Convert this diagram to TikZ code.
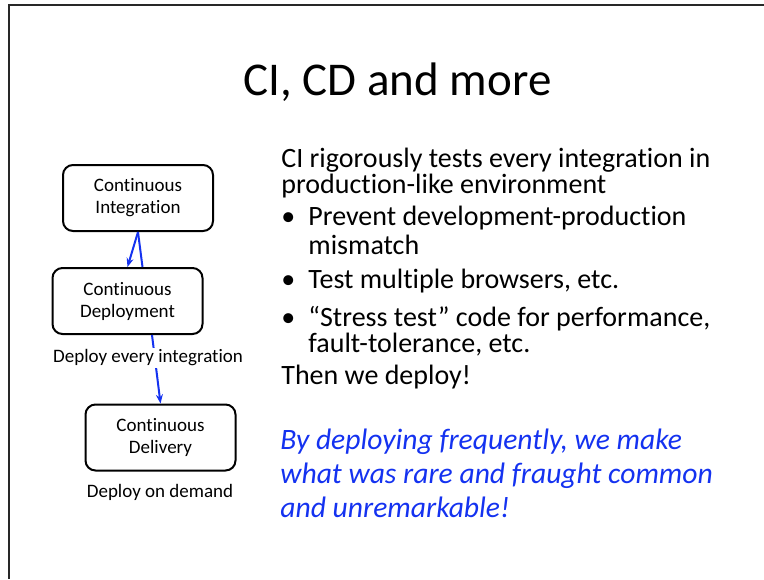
\documentclass[tikz,border=0pt]{standalone}
\usepackage{fontspec}
\setmainfont{Carlito}[Ligatures=NoCommon]
\usetikzlibrary{arrows.meta}
\definecolor{slideblue}{RGB}{20,50,240}
\definecolor{framegray}{RGB}{40,40,40}
\tikzset{
  stage/.style={draw,rounded corners=5pt,line width=1pt,minimum width=75pt,
    minimum height=33pt,align=center,inner sep=0pt,
    font=\fontsize{9.5}{11}\selectfont},
  flow/.style={slideblue,line width=1pt,-{Stealth[length=4.5pt,width=3.5pt]}},
  note/.style={fill=white,inner sep=1pt,font=\fontsize{9.5}{11}\selectfont},
  body/.style={anchor=base west,inner sep=0pt,font=\fontsize{14}{16}\selectfont},
  punch/.style={body,slideblue,font=\fontsize{14.8}{16}\selectfont\itshape},
}
\begin{document}
\begin{tikzpicture}[x=0.5pt,y=-0.5pt]
  \useasboundingbox (0,0) rectangle (764,579);
  % Marco
  \draw[framegray,line width=0.6pt] (764,5) -- (9,5) -- (9,579);
  % Titulo
  \node[anchor=base,inner sep=0pt,font=\fontsize{23.5}{28}\selectfont] (title) at (397.5,95) {CI, CD and more};
  % Cajas
  \node[stage] (ci) at (138,198) {Continuous\\Integration};
  \node[stage] (cd) at (127.5,301) {Continuous\\Deployment};
  \node[stage] (cdel) at (160.5,437.5) {Continuous\\Delivery};
  % Flechas
  \draw[flow] (ci.south) -- (cd.north);
  \draw[slideblue,line width=1pt] ([xshift=7.5pt]cd.north) -- (ci.south);
  \draw[flow] ([xshift=12.25pt]cd.south) -- (cdel.north);
  \node[note] (everyint) at (148,358) {Deploy every integration};
  \node[note] (ondemand) at (160,492) {Deploy on demand};
  % Texto
  \node[body] (intro1) at (281,167) {CI rigorously tests every integration in};
  \node[body] (intro2) at (281,193) {production-like environment};
  \node[body] (dot1) at (281,225) {•};
  \node[body] (prevent1) at (308,225) {Prevent development-production};
  \node[body] (prevent2) at (308,254) {mismatch};
  \node[body] (dot2) at (281,288) {•};
  \node[body] (browsers) at (308,288) {Test multiple browsers, etc.};
  \node[body] (dot3) at (281,326) {•};
  \node[body] (stress1) at (308,326) {“Stress test” code for performance,};
  \node[body] (stress2) at (308,352) {fault-tolerance, etc.};
  \node[body] (deploy) at (281,384) {Then we deploy!};
  \node[punch] (moral1) at (280,449) {By deploying frequently, we make};
  \node[punch] (moral2) at (280,483) {what was rare and fraught common};
  \node[punch] (moral3) at (280,517) {and unremarkable!};
\end{tikzpicture}
\end{document}
